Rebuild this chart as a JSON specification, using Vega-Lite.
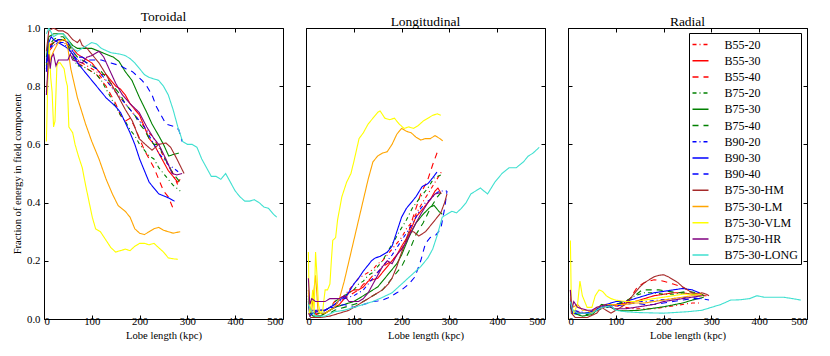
{
"$schema": "https://vega.github.io/schema/vega-lite/v6.json",
"padding": {"left": 12, "top": 9, "right": 5, "bottom": 5},
"background": "white",
"config": {
  "font": "Liberation Serif",
  "view": {"stroke": "black", "strokeWidth": 1},
  "axis": {"domain": false, "grid": false, "ticks": true, "tickSize": -4, "tickColor": "black", "labelColor": "black", "labelFontSize": 10.8, "titleFontSize": 10.6, "titleFontWeight": "normal", "titleColor": "black", "labelFont": "Liberation Serif", "titleFont": "Liberation Serif"},
  "title": {"font": "Liberation Serif", "fontSize": 13.5, "fontWeight": "normal", "color": "black", "offset": -1},
  "legend": {"orient": "none", "legendX": 645, "legendY": 5, "strokeColor": "black", "fillColor": "white", "padding": 2.5, "symbolType": "stroke", "symbolSize": 256, "symbolStrokeWidth": 1.5, "labelFontSize": 12, "labelFont": "Liberation Serif", "labelColor": "black", "labelOffset": 15, "rowPadding": 1.2},
  "concat": {"spacing": 23}
},
"bounds": "flush",
"datasets": {"d": [
{"s":"B55-20","p":"T","x":5,"y":0.85},{"s":"B55-20","p":"T","x":10,"y":0.92},{"s":"B55-20","p":"T","x":20,"y":0.94},{"s":"B55-20","p":"T","x":30,"y":0.95},{"s":"B55-20","p":"T","x":40,"y":0.95},{"s":"B55-20","p":"T","x":50,"y":0.94},{"s":"B55-20","p":"T","x":60,"y":0.91},{"s":"B55-20","p":"T","x":70,"y":0.89},{"s":"B55-20","p":"T","x":80,"y":0.88},{"s":"B55-20","p":"T","x":90,"y":0.87},{"s":"B55-20","p":"T","x":100,"y":0.86},{"s":"B55-20","p":"T","x":110,"y":0.85},{"s":"B55-20","p":"T","x":120,"y":0.83},{"s":"B55-20","p":"T","x":130,"y":0.82},{"s":"B55-20","p":"T","x":140,"y":0.8},{"s":"B55-20","p":"T","x":150,"y":0.78},{"s":"B55-20","p":"T","x":160,"y":0.76},{"s":"B55-20","p":"T","x":170,"y":0.74},{"s":"B55-20","p":"T","x":180,"y":0.72},{"s":"B55-20","p":"T","x":190,"y":0.7},{"s":"B55-20","p":"T","x":200,"y":0.68},{"s":"B55-20","p":"T","x":210,"y":0.66},{"s":"B55-20","p":"T","x":220,"y":0.64},{"s":"B55-20","p":"T","x":230,"y":0.62},{"s":"B55-20","p":"T","x":240,"y":0.59},{"s":"B55-20","p":"T","x":250,"y":0.56},{"s":"B55-20","p":"T","x":260,"y":0.53},{"s":"B55-20","p":"T","x":270,"y":0.5},{"s":"B55-20","p":"T","x":280,"y":0.46},
{"s":"B55-30","p":"T","x":5,"y":0.88},{"s":"B55-30","p":"T","x":10,"y":0.94},{"s":"B55-30","p":"T","x":20,"y":0.95},{"s":"B55-30","p":"T","x":30,"y":0.96},{"s":"B55-30","p":"T","x":40,"y":0.96},{"s":"B55-30","p":"T","x":50,"y":0.95},{"s":"B55-30","p":"T","x":60,"y":0.93},{"s":"B55-30","p":"T","x":70,"y":0.91},{"s":"B55-30","p":"T","x":80,"y":0.9},{"s":"B55-30","p":"T","x":90,"y":0.89},{"s":"B55-30","p":"T","x":100,"y":0.88},{"s":"B55-30","p":"T","x":110,"y":0.86},{"s":"B55-30","p":"T","x":120,"y":0.84},{"s":"B55-30","p":"T","x":130,"y":0.84},{"s":"B55-30","p":"T","x":140,"y":0.82},{"s":"B55-30","p":"T","x":150,"y":0.8},{"s":"B55-30","p":"T","x":160,"y":0.79},{"s":"B55-30","p":"T","x":170,"y":0.77},{"s":"B55-30","p":"T","x":180,"y":0.74},{"s":"B55-30","p":"T","x":190,"y":0.72},{"s":"B55-30","p":"T","x":200,"y":0.7},{"s":"B55-30","p":"T","x":210,"y":0.66},{"s":"B55-30","p":"T","x":220,"y":0.62},{"s":"B55-30","p":"T","x":230,"y":0.6},{"s":"B55-30","p":"T","x":240,"y":0.57},{"s":"B55-30","p":"T","x":250,"y":0.54},{"s":"B55-30","p":"T","x":260,"y":0.51},{"s":"B55-30","p":"T","x":270,"y":0.49},{"s":"B55-30","p":"T","x":280,"y":0.47},{"s":"B55-30","p":"T","x":285,"y":0.48},
{"s":"B55-40","p":"T","x":5,"y":0.86},{"s":"B55-40","p":"T","x":10,"y":0.93},{"s":"B55-40","p":"T","x":20,"y":0.95},{"s":"B55-40","p":"T","x":30,"y":0.96},{"s":"B55-40","p":"T","x":40,"y":0.96},{"s":"B55-40","p":"T","x":50,"y":0.94},{"s":"B55-40","p":"T","x":60,"y":0.91},{"s":"B55-40","p":"T","x":70,"y":0.88},{"s":"B55-40","p":"T","x":80,"y":0.87},{"s":"B55-40","p":"T","x":90,"y":0.86},{"s":"B55-40","p":"T","x":100,"y":0.85},{"s":"B55-40","p":"T","x":110,"y":0.84},{"s":"B55-40","p":"T","x":120,"y":0.82},{"s":"B55-40","p":"T","x":130,"y":0.8},{"s":"B55-40","p":"T","x":140,"y":0.77},{"s":"B55-40","p":"T","x":150,"y":0.74},{"s":"B55-40","p":"T","x":160,"y":0.7},{"s":"B55-40","p":"T","x":170,"y":0.68},{"s":"B55-40","p":"T","x":180,"y":0.69},{"s":"B55-40","p":"T","x":190,"y":0.66},{"s":"B55-40","p":"T","x":200,"y":0.62},{"s":"B55-40","p":"T","x":210,"y":0.58},{"s":"B55-40","p":"T","x":220,"y":0.55},{"s":"B55-40","p":"T","x":230,"y":0.52},{"s":"B55-40","p":"T","x":240,"y":0.48},{"s":"B55-40","p":"T","x":250,"y":0.44},{"s":"B55-40","p":"T","x":260,"y":0.42},{"s":"B55-40","p":"T","x":270,"y":0.38},
{"s":"B75-20","p":"T","x":5,"y":0.87},{"s":"B75-20","p":"T","x":10,"y":0.93},{"s":"B75-20","p":"T","x":20,"y":0.95},{"s":"B75-20","p":"T","x":30,"y":0.96},{"s":"B75-20","p":"T","x":40,"y":0.96},{"s":"B75-20","p":"T","x":50,"y":0.94},{"s":"B75-20","p":"T","x":60,"y":0.9},{"s":"B75-20","p":"T","x":70,"y":0.87},{"s":"B75-20","p":"T","x":80,"y":0.87},{"s":"B75-20","p":"T","x":90,"y":0.86},{"s":"B75-20","p":"T","x":100,"y":0.85},{"s":"B75-20","p":"T","x":110,"y":0.84},{"s":"B75-20","p":"T","x":120,"y":0.82},{"s":"B75-20","p":"T","x":130,"y":0.79},{"s":"B75-20","p":"T","x":140,"y":0.76},{"s":"B75-20","p":"T","x":150,"y":0.73},{"s":"B75-20","p":"T","x":160,"y":0.7},{"s":"B75-20","p":"T","x":170,"y":0.68},{"s":"B75-20","p":"T","x":180,"y":0.65},{"s":"B75-20","p":"T","x":190,"y":0.63},{"s":"B75-20","p":"T","x":200,"y":0.6},{"s":"B75-20","p":"T","x":210,"y":0.58},{"s":"B75-20","p":"T","x":220,"y":0.56},{"s":"B75-20","p":"T","x":230,"y":0.55},{"s":"B75-20","p":"T","x":240,"y":0.52},{"s":"B75-20","p":"T","x":250,"y":0.5},{"s":"B75-20","p":"T","x":260,"y":0.48},{"s":"B75-20","p":"T","x":270,"y":0.46},{"s":"B75-20","p":"T","x":285,"y":0.44},
{"s":"B75-30","p":"T","x":5,"y":0.9},{"s":"B75-30","p":"T","x":10,"y":0.97},{"s":"B75-30","p":"T","x":20,"y":0.98},{"s":"B75-30","p":"T","x":30,"y":0.98},{"s":"B75-30","p":"T","x":40,"y":0.98},{"s":"B75-30","p":"T","x":50,"y":0.96},{"s":"B75-30","p":"T","x":60,"y":0.94},{"s":"B75-30","p":"T","x":70,"y":0.93},{"s":"B75-30","p":"T","x":80,"y":0.93},{"s":"B75-30","p":"T","x":100,"y":0.93},{"s":"B75-30","p":"T","x":115,"y":0.92},{"s":"B75-30","p":"T","x":130,"y":0.91},{"s":"B75-30","p":"T","x":145,"y":0.9},{"s":"B75-30","p":"T","x":157,"y":0.885},{"s":"B75-30","p":"T","x":170,"y":0.85},{"s":"B75-30","p":"T","x":184,"y":0.82},{"s":"B75-30","p":"T","x":200,"y":0.76},{"s":"B75-30","p":"T","x":215,"y":0.71},{"s":"B75-30","p":"T","x":226,"y":0.67},{"s":"B75-30","p":"T","x":240,"y":0.63},{"s":"B75-30","p":"T","x":250,"y":0.6},{"s":"B75-30","p":"T","x":261,"y":0.56},{"s":"B75-30","p":"T","x":270,"y":0.565},{"s":"B75-30","p":"T","x":282,"y":0.57},
{"s":"B75-40","p":"T","x":5,"y":0.88},{"s":"B75-40","p":"T","x":10,"y":0.94},{"s":"B75-40","p":"T","x":20,"y":0.96},{"s":"B75-40","p":"T","x":30,"y":0.97},{"s":"B75-40","p":"T","x":40,"y":0.97},{"s":"B75-40","p":"T","x":50,"y":0.95},{"s":"B75-40","p":"T","x":60,"y":0.92},{"s":"B75-40","p":"T","x":70,"y":0.9},{"s":"B75-40","p":"T","x":80,"y":0.89},{"s":"B75-40","p":"T","x":90,"y":0.88},{"s":"B75-40","p":"T","x":100,"y":0.87},{"s":"B75-40","p":"T","x":110,"y":0.86},{"s":"B75-40","p":"T","x":120,"y":0.85},{"s":"B75-40","p":"T","x":130,"y":0.83},{"s":"B75-40","p":"T","x":140,"y":0.81},{"s":"B75-40","p":"T","x":150,"y":0.79},{"s":"B75-40","p":"T","x":160,"y":0.77},{"s":"B75-40","p":"T","x":170,"y":0.74},{"s":"B75-40","p":"T","x":180,"y":0.72},{"s":"B75-40","p":"T","x":190,"y":0.7},{"s":"B75-40","p":"T","x":200,"y":0.67},{"s":"B75-40","p":"T","x":210,"y":0.65},{"s":"B75-40","p":"T","x":220,"y":0.62},{"s":"B75-40","p":"T","x":230,"y":0.6},{"s":"B75-40","p":"T","x":240,"y":0.6},{"s":"B75-40","p":"T","x":250,"y":0.56},{"s":"B75-40","p":"T","x":260,"y":0.53},{"s":"B75-40","p":"T","x":270,"y":0.5},{"s":"B75-40","p":"T","x":285,"y":0.47},
{"s":"B90-20","p":"T","x":5,"y":0.86},{"s":"B90-20","p":"T","x":10,"y":0.93},{"s":"B90-20","p":"T","x":20,"y":0.94},{"s":"B90-20","p":"T","x":30,"y":0.95},{"s":"B90-20","p":"T","x":40,"y":0.95},{"s":"B90-20","p":"T","x":50,"y":0.93},{"s":"B90-20","p":"T","x":60,"y":0.91},{"s":"B90-20","p":"T","x":70,"y":0.89},{"s":"B90-20","p":"T","x":80,"y":0.89},{"s":"B90-20","p":"T","x":90,"y":0.88},{"s":"B90-20","p":"T","x":100,"y":0.87},{"s":"B90-20","p":"T","x":110,"y":0.86},{"s":"B90-20","p":"T","x":120,"y":0.84},{"s":"B90-20","p":"T","x":130,"y":0.82},{"s":"B90-20","p":"T","x":140,"y":0.8},{"s":"B90-20","p":"T","x":150,"y":0.78},{"s":"B90-20","p":"T","x":160,"y":0.76},{"s":"B90-20","p":"T","x":170,"y":0.74},{"s":"B90-20","p":"T","x":180,"y":0.72},{"s":"B90-20","p":"T","x":190,"y":0.7},{"s":"B90-20","p":"T","x":200,"y":0.68},{"s":"B90-20","p":"T","x":210,"y":0.66},{"s":"B90-20","p":"T","x":220,"y":0.63},{"s":"B90-20","p":"T","x":230,"y":0.6},{"s":"B90-20","p":"T","x":240,"y":0.57},{"s":"B90-20","p":"T","x":250,"y":0.55},{"s":"B90-20","p":"T","x":260,"y":0.53},{"s":"B90-20","p":"T","x":270,"y":0.52},{"s":"B90-20","p":"T","x":285,"y":0.5},
{"s":"B90-30","p":"T","x":5,"y":0.88},{"s":"B90-30","p":"T","x":10,"y":0.95},{"s":"B90-30","p":"T","x":15,"y":0.97},{"s":"B90-30","p":"T","x":20,"y":0.96},{"s":"B90-30","p":"T","x":30,"y":0.95},{"s":"B90-30","p":"T","x":40,"y":0.94},{"s":"B90-30","p":"T","x":50,"y":0.93},{"s":"B90-30","p":"T","x":60,"y":0.91},{"s":"B90-30","p":"T","x":70,"y":0.88},{"s":"B90-30","p":"T","x":80,"y":0.86},{"s":"B90-30","p":"T","x":90,"y":0.84},{"s":"B90-30","p":"T","x":100,"y":0.82},{"s":"B90-30","p":"T","x":110,"y":0.8},{"s":"B90-30","p":"T","x":120,"y":0.78},{"s":"B90-30","p":"T","x":130,"y":0.76},{"s":"B90-30","p":"T","x":140,"y":0.745},{"s":"B90-30","p":"T","x":150,"y":0.73},{"s":"B90-30","p":"T","x":160,"y":0.71},{"s":"B90-30","p":"T","x":170,"y":0.675},{"s":"B90-30","p":"T","x":180,"y":0.64},{"s":"B90-30","p":"T","x":190,"y":0.6},{"s":"B90-30","p":"T","x":200,"y":0.55},{"s":"B90-30","p":"T","x":210,"y":0.51},{"s":"B90-30","p":"T","x":220,"y":0.47},{"s":"B90-30","p":"T","x":230,"y":0.45},{"s":"B90-30","p":"T","x":240,"y":0.43},{"s":"B90-30","p":"T","x":255,"y":0.42},{"s":"B90-30","p":"T","x":262,"y":0.415},{"s":"B90-30","p":"T","x":273,"y":0.405},
{"s":"B90-40","p":"T","x":5,"y":0.85},{"s":"B90-40","p":"T","x":10,"y":0.93},{"s":"B90-40","p":"T","x":20,"y":0.95},{"s":"B90-40","p":"T","x":30,"y":0.96},{"s":"B90-40","p":"T","x":40,"y":0.96},{"s":"B90-40","p":"T","x":50,"y":0.95},{"s":"B90-40","p":"T","x":60,"y":0.92},{"s":"B90-40","p":"T","x":70,"y":0.9},{"s":"B90-40","p":"T","x":80,"y":0.9},{"s":"B90-40","p":"T","x":90,"y":0.89},{"s":"B90-40","p":"T","x":100,"y":0.89},{"s":"B90-40","p":"T","x":120,"y":0.89},{"s":"B90-40","p":"T","x":140,"y":0.88},{"s":"B90-40","p":"T","x":160,"y":0.87},{"s":"B90-40","p":"T","x":171,"y":0.86},{"s":"B90-40","p":"T","x":185,"y":0.85},{"s":"B90-40","p":"T","x":205,"y":0.82},{"s":"B90-40","p":"T","x":215,"y":0.8},{"s":"B90-40","p":"T","x":226,"y":0.77},{"s":"B90-40","p":"T","x":235,"y":0.73},{"s":"B90-40","p":"T","x":245,"y":0.7},{"s":"B90-40","p":"T","x":255,"y":0.67},{"s":"B90-40","p":"T","x":265,"y":0.665},{"s":"B90-40","p":"T","x":275,"y":0.66},{"s":"B90-40","p":"T","x":282,"y":0.65},{"s":"B90-40","p":"T","x":289,"y":0.61},
{"s":"B75-30-HM","p":"T","x":5,"y":0.92},{"s":"B75-30-HM","p":"T","x":10,"y":0.99},{"s":"B75-30-HM","p":"T","x":20,"y":1.0},{"s":"B75-30-HM","p":"T","x":30,"y":0.99},{"s":"B75-30-HM","p":"T","x":40,"y":0.99},{"s":"B75-30-HM","p":"T","x":50,"y":0.98},{"s":"B75-30-HM","p":"T","x":60,"y":0.96},{"s":"B75-30-HM","p":"T","x":70,"y":0.95},{"s":"B75-30-HM","p":"T","x":75,"y":0.96},{"s":"B75-30-HM","p":"T","x":80,"y":0.94},{"s":"B75-30-HM","p":"T","x":90,"y":0.93},{"s":"B75-30-HM","p":"T","x":100,"y":0.91},{"s":"B75-30-HM","p":"T","x":115,"y":0.88},{"s":"B75-30-HM","p":"T","x":130,"y":0.84},{"s":"B75-30-HM","p":"T","x":140,"y":0.81},{"s":"B75-30-HM","p":"T","x":157,"y":0.76},{"s":"B75-30-HM","p":"T","x":170,"y":0.72},{"s":"B75-30-HM","p":"T","x":185,"y":0.68},{"s":"B75-30-HM","p":"T","x":199,"y":0.62},{"s":"B75-30-HM","p":"T","x":212,"y":0.6},{"s":"B75-30-HM","p":"T","x":226,"y":0.58},{"s":"B75-30-HM","p":"T","x":240,"y":0.6},{"s":"B75-30-HM","p":"T","x":255,"y":0.605},{"s":"B75-30-HM","p":"T","x":265,"y":0.59},{"s":"B75-30-HM","p":"T","x":278,"y":0.55},{"s":"B75-30-HM","p":"T","x":287,"y":0.52},{"s":"B75-30-HM","p":"T","x":293,"y":0.5},
{"s":"B75-30-LM","p":"T","x":5,"y":0.78},{"s":"B75-30-LM","p":"T","x":10,"y":0.87},{"s":"B75-30-LM","p":"T","x":15,"y":0.9},{"s":"B75-30-LM","p":"T","x":20,"y":0.92},{"s":"B75-30-LM","p":"T","x":30,"y":0.95},{"s":"B75-30-LM","p":"T","x":40,"y":0.96},{"s":"B75-30-LM","p":"T","x":45,"y":0.96},{"s":"B75-30-LM","p":"T","x":50,"y":0.93},{"s":"B75-30-LM","p":"T","x":56,"y":0.86},{"s":"B75-30-LM","p":"T","x":70,"y":0.76},{"s":"B75-30-LM","p":"T","x":87,"y":0.67},{"s":"B75-30-LM","p":"T","x":100,"y":0.61},{"s":"B75-30-LM","p":"T","x":115,"y":0.55},{"s":"B75-30-LM","p":"T","x":130,"y":0.48},{"s":"B75-30-LM","p":"T","x":143,"y":0.43},{"s":"B75-30-LM","p":"T","x":155,"y":0.39},{"s":"B75-30-LM","p":"T","x":170,"y":0.37},{"s":"B75-30-LM","p":"T","x":180,"y":0.35},{"s":"B75-30-LM","p":"T","x":190,"y":0.31},{"s":"B75-30-LM","p":"T","x":200,"y":0.295},{"s":"B75-30-LM","p":"T","x":210,"y":0.29},{"s":"B75-30-LM","p":"T","x":220,"y":0.3},{"s":"B75-30-LM","p":"T","x":230,"y":0.31},{"s":"B75-30-LM","p":"T","x":240,"y":0.315},{"s":"B75-30-LM","p":"T","x":250,"y":0.305},{"s":"B75-30-LM","p":"T","x":260,"y":0.3},{"s":"B75-30-LM","p":"T","x":270,"y":0.295},{"s":"B75-30-LM","p":"T","x":285,"y":0.3},
{"s":"B75-30-VLM","p":"T","x":5,"y":0.61},{"s":"B75-30-VLM","p":"T","x":8,"y":0.82},{"s":"B75-30-VLM","p":"T","x":11,"y":0.95},{"s":"B75-30-VLM","p":"T","x":14,"y":0.83},{"s":"B75-30-VLM","p":"T","x":17,"y":0.78},{"s":"B75-30-VLM","p":"T","x":20,"y":0.66},{"s":"B75-30-VLM","p":"T","x":23,"y":0.68},{"s":"B75-30-VLM","p":"T","x":27,"y":0.87},{"s":"B75-30-VLM","p":"T","x":30,"y":0.88},{"s":"B75-30-VLM","p":"T","x":34,"y":0.88},{"s":"B75-30-VLM","p":"T","x":38,"y":0.87},{"s":"B75-30-VLM","p":"T","x":42,"y":0.86},{"s":"B75-30-VLM","p":"T","x":46,"y":0.82},{"s":"B75-30-VLM","p":"T","x":49,"y":0.8},{"s":"B75-30-VLM","p":"T","x":52,"y":0.66},{"s":"B75-30-VLM","p":"T","x":56,"y":0.65},{"s":"B75-30-VLM","p":"T","x":60,"y":0.64},{"s":"B75-30-VLM","p":"T","x":65,"y":0.6},{"s":"B75-30-VLM","p":"T","x":72,"y":0.56},{"s":"B75-30-VLM","p":"T","x":80,"y":0.52},{"s":"B75-30-VLM","p":"T","x":87,"y":0.46},{"s":"B75-30-VLM","p":"T","x":94,"y":0.405},{"s":"B75-30-VLM","p":"T","x":101,"y":0.35},{"s":"B75-30-VLM","p":"T","x":108,"y":0.31},{"s":"B75-30-VLM","p":"T","x":118,"y":0.3},{"s":"B75-30-VLM","p":"T","x":130,"y":0.27},{"s":"B75-30-VLM","p":"T","x":140,"y":0.245},{"s":"B75-30-VLM","p":"T","x":150,"y":0.23},{"s":"B75-30-VLM","p":"T","x":160,"y":0.235},{"s":"B75-30-VLM","p":"T","x":170,"y":0.24},{"s":"B75-30-VLM","p":"T","x":180,"y":0.235},{"s":"B75-30-VLM","p":"T","x":190,"y":0.25},{"s":"B75-30-VLM","p":"T","x":200,"y":0.26},{"s":"B75-30-VLM","p":"T","x":210,"y":0.26},{"s":"B75-30-VLM","p":"T","x":220,"y":0.255},{"s":"B75-30-VLM","p":"T","x":230,"y":0.26},{"s":"B75-30-VLM","p":"T","x":240,"y":0.245},{"s":"B75-30-VLM","p":"T","x":250,"y":0.23},{"s":"B75-30-VLM","p":"T","x":260,"y":0.21},{"s":"B75-30-VLM","p":"T","x":270,"y":0.207},{"s":"B75-30-VLM","p":"T","x":280,"y":0.205},
{"s":"B75-30-HR","p":"T","x":5,"y":0.77},{"s":"B75-30-HR","p":"T","x":8,"y":0.86},{"s":"B75-30-HR","p":"T","x":10,"y":0.91},{"s":"B75-30-HR","p":"T","x":13,"y":0.86},{"s":"B75-30-HR","p":"T","x":16,"y":0.9},{"s":"B75-30-HR","p":"T","x":20,"y":0.91},{"s":"B75-30-HR","p":"T","x":25,"y":0.87},{"s":"B75-30-HR","p":"T","x":30,"y":0.89},{"s":"B75-30-HR","p":"T","x":40,"y":0.89},{"s":"B75-30-HR","p":"T","x":50,"y":0.89},{"s":"B75-30-HR","p":"T","x":55,"y":0.91},{"s":"B75-30-HR","p":"T","x":60,"y":0.89},{"s":"B75-30-HR","p":"T","x":70,"y":0.885},{"s":"B75-30-HR","p":"T","x":80,"y":0.88},{"s":"B75-30-HR","p":"T","x":90,"y":0.9},{"s":"B75-30-HR","p":"T","x":100,"y":0.905},{"s":"B75-30-HR","p":"T","x":115,"y":0.92},{"s":"B75-30-HR","p":"T","x":125,"y":0.9},{"s":"B75-30-HR","p":"T","x":136,"y":0.86},{"s":"B75-30-HR","p":"T","x":150,"y":0.81},{"s":"B75-30-HR","p":"T","x":164,"y":0.77},{"s":"B75-30-HR","p":"T","x":180,"y":0.74},{"s":"B75-30-HR","p":"T","x":199,"y":0.71},{"s":"B75-30-HR","p":"T","x":215,"y":0.66},{"s":"B75-30-HR","p":"T","x":230,"y":0.62},{"s":"B75-30-HR","p":"T","x":240,"y":0.6},{"s":"B75-30-HR","p":"T","x":255,"y":0.55},{"s":"B75-30-HR","p":"T","x":268,"y":0.5},{"s":"B75-30-HR","p":"T","x":278,"y":0.495},{"s":"B75-30-HR","p":"T","x":289,"y":0.5},
{"s":"B75-30-LONG","p":"T","x":5,"y":0.98},{"s":"B75-30-LONG","p":"T","x":10,"y":1.0},{"s":"B75-30-LONG","p":"T","x":20,"y":0.97},{"s":"B75-30-LONG","p":"T","x":30,"y":0.98},{"s":"B75-30-LONG","p":"T","x":40,"y":0.98},{"s":"B75-30-LONG","p":"T","x":50,"y":0.96},{"s":"B75-30-LONG","p":"T","x":60,"y":0.93},{"s":"B75-30-LONG","p":"T","x":70,"y":0.92},{"s":"B75-30-LONG","p":"T","x":80,"y":0.93},{"s":"B75-30-LONG","p":"T","x":90,"y":0.94},{"s":"B75-30-LONG","p":"T","x":100,"y":0.95},{"s":"B75-30-LONG","p":"T","x":110,"y":0.945},{"s":"B75-30-LONG","p":"T","x":120,"y":0.93},{"s":"B75-30-LONG","p":"T","x":140,"y":0.915},{"s":"B75-30-LONG","p":"T","x":160,"y":0.91},{"s":"B75-30-LONG","p":"T","x":170,"y":0.905},{"s":"B75-30-LONG","p":"T","x":180,"y":0.895},{"s":"B75-30-LONG","p":"T","x":190,"y":0.88},{"s":"B75-30-LONG","p":"T","x":200,"y":0.86},{"s":"B75-30-LONG","p":"T","x":210,"y":0.84},{"s":"B75-30-LONG","p":"T","x":220,"y":0.83},{"s":"B75-30-LONG","p":"T","x":240,"y":0.82},{"s":"B75-30-LONG","p":"T","x":250,"y":0.8},{"s":"B75-30-LONG","p":"T","x":260,"y":0.77},{"s":"B75-30-LONG","p":"T","x":270,"y":0.72},{"s":"B75-30-LONG","p":"T","x":280,"y":0.66},{"s":"B75-30-LONG","p":"T","x":290,"y":0.61},{"s":"B75-30-LONG","p":"T","x":300,"y":0.6},{"s":"B75-30-LONG","p":"T","x":310,"y":0.6},{"s":"B75-30-LONG","p":"T","x":320,"y":0.59},{"s":"B75-30-LONG","p":"T","x":330,"y":0.55},{"s":"B75-30-LONG","p":"T","x":340,"y":0.52},{"s":"B75-30-LONG","p":"T","x":350,"y":0.49},{"s":"B75-30-LONG","p":"T","x":360,"y":0.49},{"s":"B75-30-LONG","p":"T","x":370,"y":0.48},{"s":"B75-30-LONG","p":"T","x":380,"y":0.5},{"s":"B75-30-LONG","p":"T","x":390,"y":0.47},{"s":"B75-30-LONG","p":"T","x":400,"y":0.44},{"s":"B75-30-LONG","p":"T","x":410,"y":0.42},{"s":"B75-30-LONG","p":"T","x":420,"y":0.405},{"s":"B75-30-LONG","p":"T","x":430,"y":0.405},{"s":"B75-30-LONG","p":"T","x":440,"y":0.41},{"s":"B75-30-LONG","p":"T","x":450,"y":0.4},{"s":"B75-30-LONG","p":"T","x":460,"y":0.385},{"s":"B75-30-LONG","p":"T","x":470,"y":0.38},{"s":"B75-30-LONG","p":"T","x":480,"y":0.36},{"s":"B75-30-LONG","p":"T","x":487,"y":0.35},

{"s":"B55-20","p":"L","x":5,"y":0.08},{"s":"B55-20","p":"L","x":8,"y":0.02},{"s":"B55-20","p":"L","x":15,"y":0.02},{"s":"B55-20","p":"L","x":25,"y":0.03},{"s":"B55-20","p":"L","x":40,"y":0.03},{"s":"B55-20","p":"L","x":50,"y":0.04},{"s":"B55-20","p":"L","x":60,"y":0.06},{"s":"B55-20","p":"L","x":70,"y":0.07},{"s":"B55-20","p":"L","x":80,"y":0.08},{"s":"B55-20","p":"L","x":90,"y":0.1},{"s":"B55-20","p":"L","x":100,"y":0.12},{"s":"B55-20","p":"L","x":110,"y":0.14},{"s":"B55-20","p":"L","x":120,"y":0.15},{"s":"B55-20","p":"L","x":130,"y":0.16},{"s":"B55-20","p":"L","x":140,"y":0.17},{"s":"B55-20","p":"L","x":150,"y":0.19},{"s":"B55-20","p":"L","x":160,"y":0.2},{"s":"B55-20","p":"L","x":170,"y":0.22},{"s":"B55-20","p":"L","x":180,"y":0.24},{"s":"B55-20","p":"L","x":190,"y":0.26},{"s":"B55-20","p":"L","x":200,"y":0.28},{"s":"B55-20","p":"L","x":210,"y":0.31},{"s":"B55-20","p":"L","x":220,"y":0.33},{"s":"B55-20","p":"L","x":230,"y":0.36},{"s":"B55-20","p":"L","x":240,"y":0.39},{"s":"B55-20","p":"L","x":255,"y":0.43},{"s":"B55-20","p":"L","x":270,"y":0.47},{"s":"B55-20","p":"L","x":285,"y":0.51},
{"s":"B55-30","p":"L","x":5,"y":0.1},{"s":"B55-30","p":"L","x":8,"y":0.03},{"s":"B55-30","p":"L","x":15,"y":0.02},{"s":"B55-30","p":"L","x":30,"y":0.01},{"s":"B55-30","p":"L","x":40,"y":0.02},{"s":"B55-30","p":"L","x":50,"y":0.03},{"s":"B55-30","p":"L","x":60,"y":0.04},{"s":"B55-30","p":"L","x":70,"y":0.05},{"s":"B55-30","p":"L","x":80,"y":0.07},{"s":"B55-30","p":"L","x":90,"y":0.09},{"s":"B55-30","p":"L","x":100,"y":0.1},{"s":"B55-30","p":"L","x":110,"y":0.1},{"s":"B55-30","p":"L","x":120,"y":0.11},{"s":"B55-30","p":"L","x":130,"y":0.13},{"s":"B55-30","p":"L","x":140,"y":0.135},{"s":"B55-30","p":"L","x":150,"y":0.14},{"s":"B55-30","p":"L","x":160,"y":0.16},{"s":"B55-30","p":"L","x":170,"y":0.18},{"s":"B55-30","p":"L","x":180,"y":0.2},{"s":"B55-30","p":"L","x":190,"y":0.22},{"s":"B55-30","p":"L","x":200,"y":0.25},{"s":"B55-30","p":"L","x":215,"y":0.29},{"s":"B55-30","p":"L","x":230,"y":0.35},{"s":"B55-30","p":"L","x":245,"y":0.38},{"s":"B55-30","p":"L","x":260,"y":0.41},{"s":"B55-30","p":"L","x":270,"y":0.44},{"s":"B55-30","p":"L","x":276,"y":0.45},{"s":"B55-30","p":"L","x":283,"y":0.43},
{"s":"B55-40","p":"L","x":5,"y":0.09},{"s":"B55-40","p":"L","x":8,"y":0.03},{"s":"B55-40","p":"L","x":15,"y":0.02},{"s":"B55-40","p":"L","x":30,"y":0.02},{"s":"B55-40","p":"L","x":40,"y":0.03},{"s":"B55-40","p":"L","x":50,"y":0.04},{"s":"B55-40","p":"L","x":60,"y":0.05},{"s":"B55-40","p":"L","x":70,"y":0.06},{"s":"B55-40","p":"L","x":80,"y":0.07},{"s":"B55-40","p":"L","x":90,"y":0.08},{"s":"B55-40","p":"L","x":100,"y":0.09},{"s":"B55-40","p":"L","x":110,"y":0.1},{"s":"B55-40","p":"L","x":120,"y":0.12},{"s":"B55-40","p":"L","x":130,"y":0.13},{"s":"B55-40","p":"L","x":140,"y":0.15},{"s":"B55-40","p":"L","x":150,"y":0.16},{"s":"B55-40","p":"L","x":160,"y":0.18},{"s":"B55-40","p":"L","x":170,"y":0.19},{"s":"B55-40","p":"L","x":180,"y":0.2},{"s":"B55-40","p":"L","x":190,"y":0.22},{"s":"B55-40","p":"L","x":200,"y":0.24},{"s":"B55-40","p":"L","x":210,"y":0.27},{"s":"B55-40","p":"L","x":220,"y":0.33},{"s":"B55-40","p":"L","x":230,"y":0.38},{"s":"B55-40","p":"L","x":240,"y":0.43},{"s":"B55-40","p":"L","x":255,"y":0.48},{"s":"B55-40","p":"L","x":265,"y":0.53},{"s":"B55-40","p":"L","x":275,"y":0.575},
{"s":"B75-20","p":"L","x":5,"y":0.07},{"s":"B75-20","p":"L","x":8,"y":0.02},{"s":"B75-20","p":"L","x":15,"y":0.02},{"s":"B75-20","p":"L","x":30,"y":0.02},{"s":"B75-20","p":"L","x":40,"y":0.03},{"s":"B75-20","p":"L","x":50,"y":0.04},{"s":"B75-20","p":"L","x":60,"y":0.06},{"s":"B75-20","p":"L","x":70,"y":0.07},{"s":"B75-20","p":"L","x":80,"y":0.08},{"s":"B75-20","p":"L","x":90,"y":0.09},{"s":"B75-20","p":"L","x":100,"y":0.1},{"s":"B75-20","p":"L","x":110,"y":0.12},{"s":"B75-20","p":"L","x":120,"y":0.13},{"s":"B75-20","p":"L","x":130,"y":0.15},{"s":"B75-20","p":"L","x":140,"y":0.16},{"s":"B75-20","p":"L","x":150,"y":0.18},{"s":"B75-20","p":"L","x":160,"y":0.2},{"s":"B75-20","p":"L","x":172,"y":0.235},{"s":"B75-20","p":"L","x":185,"y":0.27},{"s":"B75-20","p":"L","x":195,"y":0.3},{"s":"B75-20","p":"L","x":210,"y":0.34},{"s":"B75-20","p":"L","x":222,"y":0.38},{"s":"B75-20","p":"L","x":240,"y":0.42},{"s":"B75-20","p":"L","x":255,"y":0.45},{"s":"B75-20","p":"L","x":268,"y":0.485},{"s":"B75-20","p":"L","x":282,"y":0.495},
{"s":"B75-30","p":"L","x":5,"y":0.06},{"s":"B75-30","p":"L","x":8,"y":0.02},{"s":"B75-30","p":"L","x":15,"y":0.01},{"s":"B75-30","p":"L","x":30,"y":0.01},{"s":"B75-30","p":"L","x":40,"y":0.02},{"s":"B75-30","p":"L","x":50,"y":0.03},{"s":"B75-30","p":"L","x":60,"y":0.04},{"s":"B75-30","p":"L","x":70,"y":0.045},{"s":"B75-30","p":"L","x":80,"y":0.05},{"s":"B75-30","p":"L","x":90,"y":0.055},{"s":"B75-30","p":"L","x":100,"y":0.06},{"s":"B75-30","p":"L","x":110,"y":0.07},{"s":"B75-30","p":"L","x":120,"y":0.08},{"s":"B75-30","p":"L","x":130,"y":0.09},{"s":"B75-30","p":"L","x":140,"y":0.1},{"s":"B75-30","p":"L","x":150,"y":0.11},{"s":"B75-30","p":"L","x":160,"y":0.13},{"s":"B75-30","p":"L","x":170,"y":0.15},{"s":"B75-30","p":"L","x":180,"y":0.17},{"s":"B75-30","p":"L","x":190,"y":0.19},{"s":"B75-30","p":"L","x":200,"y":0.22},{"s":"B75-30","p":"L","x":215,"y":0.28},{"s":"B75-30","p":"L","x":230,"y":0.33},{"s":"B75-30","p":"L","x":245,"y":0.36},{"s":"B75-30","p":"L","x":260,"y":0.385},{"s":"B75-30","p":"L","x":268,"y":0.39},{"s":"B75-30","p":"L","x":278,"y":0.37},{"s":"B75-30","p":"L","x":285,"y":0.36},
{"s":"B75-40","p":"L","x":5,"y":0.06},{"s":"B75-40","p":"L","x":8,"y":0.02},{"s":"B75-40","p":"L","x":15,"y":0.02},{"s":"B75-40","p":"L","x":30,"y":0.02},{"s":"B75-40","p":"L","x":50,"y":0.02},{"s":"B75-40","p":"L","x":60,"y":0.03},{"s":"B75-40","p":"L","x":70,"y":0.035},{"s":"B75-40","p":"L","x":80,"y":0.04},{"s":"B75-40","p":"L","x":90,"y":0.045},{"s":"B75-40","p":"L","x":100,"y":0.05},{"s":"B75-40","p":"L","x":110,"y":0.055},{"s":"B75-40","p":"L","x":120,"y":0.06},{"s":"B75-40","p":"L","x":130,"y":0.07},{"s":"B75-40","p":"L","x":140,"y":0.08},{"s":"B75-40","p":"L","x":150,"y":0.09},{"s":"B75-40","p":"L","x":160,"y":0.1},{"s":"B75-40","p":"L","x":170,"y":0.12},{"s":"B75-40","p":"L","x":180,"y":0.14},{"s":"B75-40","p":"L","x":190,"y":0.16},{"s":"B75-40","p":"L","x":200,"y":0.18},{"s":"B75-40","p":"L","x":215,"y":0.23},{"s":"B75-40","p":"L","x":230,"y":0.29},{"s":"B75-40","p":"L","x":245,"y":0.33},{"s":"B75-40","p":"L","x":260,"y":0.38},{"s":"B75-40","p":"L","x":275,"y":0.42},{"s":"B75-40","p":"L","x":285,"y":0.44},
{"s":"B90-20","p":"L","x":5,"y":0.08},{"s":"B90-20","p":"L","x":8,"y":0.02},{"s":"B90-20","p":"L","x":15,"y":0.02},{"s":"B90-20","p":"L","x":30,"y":0.03},{"s":"B90-20","p":"L","x":40,"y":0.03},{"s":"B90-20","p":"L","x":50,"y":0.04},{"s":"B90-20","p":"L","x":60,"y":0.05},{"s":"B90-20","p":"L","x":70,"y":0.06},{"s":"B90-20","p":"L","x":80,"y":0.07},{"s":"B90-20","p":"L","x":90,"y":0.075},{"s":"B90-20","p":"L","x":100,"y":0.08},{"s":"B90-20","p":"L","x":110,"y":0.09},{"s":"B90-20","p":"L","x":120,"y":0.1},{"s":"B90-20","p":"L","x":130,"y":0.12},{"s":"B90-20","p":"L","x":140,"y":0.14},{"s":"B90-20","p":"L","x":150,"y":0.16},{"s":"B90-20","p":"L","x":160,"y":0.18},{"s":"B90-20","p":"L","x":170,"y":0.2},{"s":"B90-20","p":"L","x":180,"y":0.22},{"s":"B90-20","p":"L","x":190,"y":0.245},{"s":"B90-20","p":"L","x":200,"y":0.27},{"s":"B90-20","p":"L","x":210,"y":0.295},{"s":"B90-20","p":"L","x":220,"y":0.32},{"s":"B90-20","p":"L","x":230,"y":0.35},{"s":"B90-20","p":"L","x":240,"y":0.38},{"s":"B90-20","p":"L","x":250,"y":0.4},{"s":"B90-20","p":"L","x":260,"y":0.41},{"s":"B90-20","p":"L","x":270,"y":0.43},{"s":"B90-20","p":"L","x":280,"y":0.44},{"s":"B90-20","p":"L","x":295,"y":0.44},
{"s":"B90-30","p":"L","x":5,"y":0.05},{"s":"B90-30","p":"L","x":8,"y":0.01},{"s":"B90-30","p":"L","x":15,"y":0.02},{"s":"B90-30","p":"L","x":20,"y":0.03},{"s":"B90-30","p":"L","x":30,"y":0.03},{"s":"B90-30","p":"L","x":40,"y":0.03},{"s":"B90-30","p":"L","x":50,"y":0.04},{"s":"B90-30","p":"L","x":60,"y":0.05},{"s":"B90-30","p":"L","x":70,"y":0.065},{"s":"B90-30","p":"L","x":85,"y":0.08},{"s":"B90-30","p":"L","x":100,"y":0.12},{"s":"B90-30","p":"L","x":110,"y":0.14},{"s":"B90-30","p":"L","x":120,"y":0.165},{"s":"B90-30","p":"L","x":130,"y":0.185},{"s":"B90-30","p":"L","x":137,"y":0.2},{"s":"B90-30","p":"L","x":145,"y":0.21},{"s":"B90-30","p":"L","x":155,"y":0.215},{"s":"B90-30","p":"L","x":170,"y":0.23},{"s":"B90-30","p":"L","x":180,"y":0.25},{"s":"B90-30","p":"L","x":190,"y":0.3},{"s":"B90-30","p":"L","x":200,"y":0.35},{"s":"B90-30","p":"L","x":210,"y":0.38},{"s":"B90-30","p":"L","x":220,"y":0.4},{"s":"B90-30","p":"L","x":230,"y":0.42},{"s":"B90-30","p":"L","x":243,"y":0.455},{"s":"B90-30","p":"L","x":255,"y":0.465},{"s":"B90-30","p":"L","x":265,"y":0.485},{"s":"B90-30","p":"L","x":274,"y":0.505},
{"s":"B90-40","p":"L","x":5,"y":0.07},{"s":"B90-40","p":"L","x":8,"y":0.03},{"s":"B90-40","p":"L","x":15,"y":0.03},{"s":"B90-40","p":"L","x":30,"y":0.03},{"s":"B90-40","p":"L","x":40,"y":0.03},{"s":"B90-40","p":"L","x":50,"y":0.04},{"s":"B90-40","p":"L","x":60,"y":0.04},{"s":"B90-40","p":"L","x":70,"y":0.045},{"s":"B90-40","p":"L","x":80,"y":0.05},{"s":"B90-40","p":"L","x":90,"y":0.045},{"s":"B90-40","p":"L","x":100,"y":0.04},{"s":"B90-40","p":"L","x":110,"y":0.045},{"s":"B90-40","p":"L","x":120,"y":0.05},{"s":"B90-40","p":"L","x":130,"y":0.055},{"s":"B90-40","p":"L","x":140,"y":0.06},{"s":"B90-40","p":"L","x":150,"y":0.062},{"s":"B90-40","p":"L","x":160,"y":0.065},{"s":"B90-40","p":"L","x":172,"y":0.073},{"s":"B90-40","p":"L","x":180,"y":0.08},{"s":"B90-40","p":"L","x":190,"y":0.09},{"s":"B90-40","p":"L","x":200,"y":0.1},{"s":"B90-40","p":"L","x":215,"y":0.12},{"s":"B90-40","p":"L","x":228,"y":0.145},{"s":"B90-40","p":"L","x":240,"y":0.2},{"s":"B90-40","p":"L","x":250,"y":0.26},{"s":"B90-40","p":"L","x":260,"y":0.28},{"s":"B90-40","p":"L","x":270,"y":0.285},{"s":"B90-40","p":"L","x":282,"y":0.31},{"s":"B90-40","p":"L","x":290,"y":0.38},{"s":"B90-40","p":"L","x":295,"y":0.44},
{"s":"B75-30-HM","p":"L","x":5,"y":0.02},{"s":"B75-30-HM","p":"L","x":10,"y":0.005},{"s":"B75-30-HM","p":"L","x":30,"y":0.005},{"s":"B75-30-HM","p":"L","x":50,"y":0.01},{"s":"B75-30-HM","p":"L","x":60,"y":0.015},{"s":"B75-30-HM","p":"L","x":70,"y":0.02},{"s":"B75-30-HM","p":"L","x":80,"y":0.025},{"s":"B75-30-HM","p":"L","x":90,"y":0.03},{"s":"B75-30-HM","p":"L","x":100,"y":0.04},{"s":"B75-30-HM","p":"L","x":110,"y":0.05},{"s":"B75-30-HM","p":"L","x":120,"y":0.06},{"s":"B75-30-HM","p":"L","x":130,"y":0.07},{"s":"B75-30-HM","p":"L","x":140,"y":0.08},{"s":"B75-30-HM","p":"L","x":150,"y":0.09},{"s":"B75-30-HM","p":"L","x":160,"y":0.1},{"s":"B75-30-HM","p":"L","x":172,"y":0.12},{"s":"B75-30-HM","p":"L","x":180,"y":0.14},{"s":"B75-30-HM","p":"L","x":190,"y":0.18},{"s":"B75-30-HM","p":"L","x":198,"y":0.22},{"s":"B75-30-HM","p":"L","x":205,"y":0.25},{"s":"B75-30-HM","p":"L","x":215,"y":0.3},{"s":"B75-30-HM","p":"L","x":225,"y":0.3},{"s":"B75-30-HM","p":"L","x":236,"y":0.285},{"s":"B75-30-HM","p":"L","x":250,"y":0.3},{"s":"B75-30-HM","p":"L","x":265,"y":0.33},{"s":"B75-30-HM","p":"L","x":282,"y":0.365},{"s":"B75-30-HM","p":"L","x":290,"y":0.4},{"s":"B75-30-HM","p":"L","x":295,"y":0.43},
{"s":"B75-30-LM","p":"L","x":5,"y":0.1},{"s":"B75-30-LM","p":"L","x":8,"y":0.04},{"s":"B75-30-LM","p":"L","x":12,"y":0.03},{"s":"B75-30-LM","p":"L","x":20,"y":0.15},{"s":"B75-30-LM","p":"L","x":25,"y":0.03},{"s":"B75-30-LM","p":"L","x":30,"y":0.02},{"s":"B75-30-LM","p":"L","x":40,"y":0.02},{"s":"B75-30-LM","p":"L","x":50,"y":0.03},{"s":"B75-30-LM","p":"L","x":60,"y":0.04},{"s":"B75-30-LM","p":"L","x":70,"y":0.07},{"s":"B75-30-LM","p":"L","x":80,"y":0.13},{"s":"B75-30-LM","p":"L","x":90,"y":0.2},{"s":"B75-30-LM","p":"L","x":100,"y":0.27},{"s":"B75-30-LM","p":"L","x":110,"y":0.34},{"s":"B75-30-LM","p":"L","x":120,"y":0.41},{"s":"B75-30-LM","p":"L","x":130,"y":0.48},{"s":"B75-30-LM","p":"L","x":140,"y":0.54},{"s":"B75-30-LM","p":"L","x":150,"y":0.56},{"s":"B75-30-LM","p":"L","x":160,"y":0.57},{"s":"B75-30-LM","p":"L","x":170,"y":0.575},{"s":"B75-30-LM","p":"L","x":180,"y":0.6},{"s":"B75-30-LM","p":"L","x":190,"y":0.635},{"s":"B75-30-LM","p":"L","x":200,"y":0.655},{"s":"B75-30-LM","p":"L","x":210,"y":0.645},{"s":"B75-30-LM","p":"L","x":220,"y":0.64},{"s":"B75-30-LM","p":"L","x":230,"y":0.625},{"s":"B75-30-LM","p":"L","x":240,"y":0.615},{"s":"B75-30-LM","p":"L","x":250,"y":0.62},{"s":"B75-30-LM","p":"L","x":260,"y":0.62},{"s":"B75-30-LM","p":"L","x":270,"y":0.63},{"s":"B75-30-LM","p":"L","x":280,"y":0.62},{"s":"B75-30-LM","p":"L","x":286,"y":0.612},
{"s":"B75-30-VLM","p":"L","x":5,"y":0.23},{"s":"B75-30-VLM","p":"L","x":7,"y":0.02},{"s":"B75-30-VLM","p":"L","x":10,"y":0.03},{"s":"B75-30-VLM","p":"L","x":14,"y":0.1},{"s":"B75-30-VLM","p":"L","x":17,"y":0.02},{"s":"B75-30-VLM","p":"L","x":20,"y":0.23},{"s":"B75-30-VLM","p":"L","x":23,"y":0.15},{"s":"B75-30-VLM","p":"L","x":26,"y":0.05},{"s":"B75-30-VLM","p":"L","x":30,"y":0.02},{"s":"B75-30-VLM","p":"L","x":35,"y":0.03},{"s":"B75-30-VLM","p":"L","x":40,"y":0.1},{"s":"B75-30-VLM","p":"L","x":45,"y":0.1},{"s":"B75-30-VLM","p":"L","x":50,"y":0.12},{"s":"B75-30-VLM","p":"L","x":53,"y":0.2},{"s":"B75-30-VLM","p":"L","x":56,"y":0.27},{"s":"B75-30-VLM","p":"L","x":62,"y":0.28},{"s":"B75-30-VLM","p":"L","x":66,"y":0.34},{"s":"B75-30-VLM","p":"L","x":75,"y":0.42},{"s":"B75-30-VLM","p":"L","x":85,"y":0.47},{"s":"B75-30-VLM","p":"L","x":94,"y":0.5},{"s":"B75-30-VLM","p":"L","x":100,"y":0.54},{"s":"B75-30-VLM","p":"L","x":111,"y":0.62},{"s":"B75-30-VLM","p":"L","x":120,"y":0.64},{"s":"B75-30-VLM","p":"L","x":130,"y":0.67},{"s":"B75-30-VLM","p":"L","x":140,"y":0.69},{"s":"B75-30-VLM","p":"L","x":150,"y":0.71},{"s":"B75-30-VLM","p":"L","x":155,"y":0.715},{"s":"B75-30-VLM","p":"L","x":165,"y":0.69},{"s":"B75-30-VLM","p":"L","x":175,"y":0.685},{"s":"B75-30-VLM","p":"L","x":185,"y":0.69},{"s":"B75-30-VLM","p":"L","x":195,"y":0.67},{"s":"B75-30-VLM","p":"L","x":205,"y":0.655},{"s":"B75-30-VLM","p":"L","x":215,"y":0.66},{"s":"B75-30-VLM","p":"L","x":225,"y":0.655},{"s":"B75-30-VLM","p":"L","x":235,"y":0.665},{"s":"B75-30-VLM","p":"L","x":245,"y":0.68},{"s":"B75-30-VLM","p":"L","x":255,"y":0.69},{"s":"B75-30-VLM","p":"L","x":265,"y":0.7},{"s":"B75-30-VLM","p":"L","x":275,"y":0.705},{"s":"B75-30-VLM","p":"L","x":282,"y":0.7},
{"s":"B75-30-HR","p":"L","x":5,"y":0.14},{"s":"B75-30-HR","p":"L","x":8,"y":0.05},{"s":"B75-30-HR","p":"L","x":12,"y":0.07},{"s":"B75-30-HR","p":"L","x":20,"y":0.06},{"s":"B75-30-HR","p":"L","x":30,"y":0.06},{"s":"B75-30-HR","p":"L","x":40,"y":0.06},{"s":"B75-30-HR","p":"L","x":50,"y":0.07},{"s":"B75-30-HR","p":"L","x":60,"y":0.07},{"s":"B75-30-HR","p":"L","x":70,"y":0.07},{"s":"B75-30-HR","p":"L","x":80,"y":0.08},{"s":"B75-30-HR","p":"L","x":90,"y":0.06},{"s":"B75-30-HR","p":"L","x":100,"y":0.06},{"s":"B75-30-HR","p":"L","x":110,"y":0.06},{"s":"B75-30-HR","p":"L","x":120,"y":0.07},{"s":"B75-30-HR","p":"L","x":130,"y":0.09},{"s":"B75-30-HR","p":"L","x":140,"y":0.12},{"s":"B75-30-HR","p":"L","x":150,"y":0.15},{"s":"B75-30-HR","p":"L","x":160,"y":0.18},{"s":"B75-30-HR","p":"L","x":170,"y":0.2},{"s":"B75-30-HR","p":"L","x":180,"y":0.19},{"s":"B75-30-HR","p":"L","x":190,"y":0.22},{"s":"B75-30-HR","p":"L","x":200,"y":0.24},{"s":"B75-30-HR","p":"L","x":210,"y":0.265},{"s":"B75-30-HR","p":"L","x":220,"y":0.3},{"s":"B75-30-HR","p":"L","x":230,"y":0.33},{"s":"B75-30-HR","p":"L","x":240,"y":0.36},{"s":"B75-30-HR","p":"L","x":257,"y":0.405},{"s":"B75-30-HR","p":"L","x":270,"y":0.43},{"s":"B75-30-HR","p":"L","x":282,"y":0.434},
{"s":"B75-30-LONG","p":"L","x":5,"y":0.05},{"s":"B75-30-LONG","p":"L","x":10,"y":0.03},{"s":"B75-30-LONG","p":"L","x":20,"y":0.01},{"s":"B75-30-LONG","p":"L","x":40,"y":0.01},{"s":"B75-30-LONG","p":"L","x":60,"y":0.025},{"s":"B75-30-LONG","p":"L","x":80,"y":0.03},{"s":"B75-30-LONG","p":"L","x":100,"y":0.04},{"s":"B75-30-LONG","p":"L","x":120,"y":0.05},{"s":"B75-30-LONG","p":"L","x":140,"y":0.06},{"s":"B75-30-LONG","p":"L","x":158,"y":0.073},{"s":"B75-30-LONG","p":"L","x":180,"y":0.09},{"s":"B75-30-LONG","p":"L","x":200,"y":0.12},{"s":"B75-30-LONG","p":"L","x":220,"y":0.15},{"s":"B75-30-LONG","p":"L","x":240,"y":0.18},{"s":"B75-30-LONG","p":"L","x":255,"y":0.21},{"s":"B75-30-LONG","p":"L","x":265,"y":0.24},{"s":"B75-30-LONG","p":"L","x":275,"y":0.29},{"s":"B75-30-LONG","p":"L","x":285,"y":0.35},{"s":"B75-30-LONG","p":"L","x":295,"y":0.36},{"s":"B75-30-LONG","p":"L","x":305,"y":0.37},{"s":"B75-30-LONG","p":"L","x":315,"y":0.365},{"s":"B75-30-LONG","p":"L","x":325,"y":0.38},{"s":"B75-30-LONG","p":"L","x":335,"y":0.4},{"s":"B75-30-LONG","p":"L","x":345,"y":0.43},{"s":"B75-30-LONG","p":"L","x":355,"y":0.44},{"s":"B75-30-LONG","p":"L","x":365,"y":0.45},{"s":"B75-30-LONG","p":"L","x":372,"y":0.44},{"s":"B75-30-LONG","p":"L","x":380,"y":0.43},{"s":"B75-30-LONG","p":"L","x":395,"y":0.47},{"s":"B75-30-LONG","p":"L","x":410,"y":0.5},{"s":"B75-30-LONG","p":"L","x":425,"y":0.52},{"s":"B75-30-LONG","p":"L","x":440,"y":0.52},{"s":"B75-30-LONG","p":"L","x":455,"y":0.54},{"s":"B75-30-LONG","p":"L","x":465,"y":0.56},{"s":"B75-30-LONG","p":"L","x":475,"y":0.57},{"s":"B75-30-LONG","p":"L","x":488,"y":0.59},

{"s":"B55-20","p":"R","x":5,"y":0.06},{"s":"B55-20","p":"R","x":10,"y":0.02},{"s":"B55-20","p":"R","x":20,"y":0.02},{"s":"B55-20","p":"R","x":40,"y":0.02},{"s":"B55-20","p":"R","x":55,"y":0.03},{"s":"B55-20","p":"R","x":70,"y":0.04},{"s":"B55-20","p":"R","x":85,"y":0.045},{"s":"B55-20","p":"R","x":100,"y":0.045},{"s":"B55-20","p":"R","x":120,"y":0.04},{"s":"B55-20","p":"R","x":140,"y":0.035},{"s":"B55-20","p":"R","x":160,"y":0.035},{"s":"B55-20","p":"R","x":180,"y":0.035},{"s":"B55-20","p":"R","x":200,"y":0.04},{"s":"B55-20","p":"R","x":220,"y":0.045},{"s":"B55-20","p":"R","x":240,"y":0.05},{"s":"B55-20","p":"R","x":260,"y":0.055},{"s":"B55-20","p":"R","x":280,"y":0.055},
{"s":"B55-30","p":"R","x":5,"y":0.07},{"s":"B55-30","p":"R","x":10,"y":0.03},{"s":"B55-30","p":"R","x":20,"y":0.02},{"s":"B55-30","p":"R","x":40,"y":0.02},{"s":"B55-30","p":"R","x":55,"y":0.03},{"s":"B55-30","p":"R","x":70,"y":0.04},{"s":"B55-30","p":"R","x":85,"y":0.045},{"s":"B55-30","p":"R","x":100,"y":0.05},{"s":"B55-30","p":"R","x":120,"y":0.055},{"s":"B55-30","p":"R","x":140,"y":0.06},{"s":"B55-30","p":"R","x":160,"y":0.07},{"s":"B55-30","p":"R","x":180,"y":0.08},{"s":"B55-30","p":"R","x":200,"y":0.085},{"s":"B55-30","p":"R","x":220,"y":0.09},{"s":"B55-30","p":"R","x":240,"y":0.09},{"s":"B55-30","p":"R","x":260,"y":0.085},{"s":"B55-30","p":"R","x":275,"y":0.09},{"s":"B55-30","p":"R","x":285,"y":0.08},
{"s":"B55-40","p":"R","x":5,"y":0.06},{"s":"B55-40","p":"R","x":10,"y":0.03},{"s":"B55-40","p":"R","x":30,"y":0.02},{"s":"B55-40","p":"R","x":50,"y":0.02},{"s":"B55-40","p":"R","x":70,"y":0.04},{"s":"B55-40","p":"R","x":90,"y":0.05},{"s":"B55-40","p":"R","x":110,"y":0.05},{"s":"B55-40","p":"R","x":130,"y":0.07},{"s":"B55-40","p":"R","x":145,"y":0.11},{"s":"B55-40","p":"R","x":160,"y":0.125},{"s":"B55-40","p":"R","x":180,"y":0.135},{"s":"B55-40","p":"R","x":200,"y":0.13},{"s":"B55-40","p":"R","x":220,"y":0.12},{"s":"B55-40","p":"R","x":240,"y":0.11},{"s":"B55-40","p":"R","x":260,"y":0.09},{"s":"B55-40","p":"R","x":280,"y":0.08},{"s":"B55-40","p":"R","x":290,"y":0.08},
{"s":"B75-20","p":"R","x":5,"y":0.05},{"s":"B75-20","p":"R","x":10,"y":0.02},{"s":"B75-20","p":"R","x":40,"y":0.02},{"s":"B75-20","p":"R","x":60,"y":0.03},{"s":"B75-20","p":"R","x":80,"y":0.04},{"s":"B75-20","p":"R","x":100,"y":0.05},{"s":"B75-20","p":"R","x":120,"y":0.06},{"s":"B75-20","p":"R","x":140,"y":0.08},{"s":"B75-20","p":"R","x":160,"y":0.09},{"s":"B75-20","p":"R","x":180,"y":0.09},{"s":"B75-20","p":"R","x":200,"y":0.085},{"s":"B75-20","p":"R","x":220,"y":0.085},{"s":"B75-20","p":"R","x":240,"y":0.09},{"s":"B75-20","p":"R","x":260,"y":0.085},{"s":"B75-20","p":"R","x":280,"y":0.08},
{"s":"B75-30","p":"R","x":5,"y":0.04},{"s":"B75-30","p":"R","x":10,"y":0.02},{"s":"B75-30","p":"R","x":30,"y":0.01},{"s":"B75-30","p":"R","x":50,"y":0.015},{"s":"B75-30","p":"R","x":60,"y":0.03},{"s":"B75-30","p":"R","x":70,"y":0.05},{"s":"B75-30","p":"R","x":80,"y":0.048},{"s":"B75-30","p":"R","x":90,"y":0.04},{"s":"B75-30","p":"R","x":100,"y":0.03},{"s":"B75-30","p":"R","x":120,"y":0.028},{"s":"B75-30","p":"R","x":150,"y":0.03},{"s":"B75-30","p":"R","x":170,"y":0.035},{"s":"B75-30","p":"R","x":200,"y":0.042},{"s":"B75-30","p":"R","x":240,"y":0.055},{"s":"B75-30","p":"R","x":260,"y":0.065},{"s":"B75-30","p":"R","x":284,"y":0.075},
{"s":"B75-40","p":"R","x":5,"y":0.05},{"s":"B75-40","p":"R","x":10,"y":0.02},{"s":"B75-40","p":"R","x":40,"y":0.015},{"s":"B75-40","p":"R","x":60,"y":0.03},{"s":"B75-40","p":"R","x":80,"y":0.04},{"s":"B75-40","p":"R","x":100,"y":0.05},{"s":"B75-40","p":"R","x":120,"y":0.06},{"s":"B75-40","p":"R","x":140,"y":0.08},{"s":"B75-40","p":"R","x":155,"y":0.1},{"s":"B75-40","p":"R","x":170,"y":0.1},{"s":"B75-40","p":"R","x":190,"y":0.1},{"s":"B75-40","p":"R","x":210,"y":0.095},{"s":"B75-40","p":"R","x":230,"y":0.09},{"s":"B75-40","p":"R","x":250,"y":0.095},{"s":"B75-40","p":"R","x":270,"y":0.09},{"s":"B75-40","p":"R","x":285,"y":0.08},
{"s":"B90-20","p":"R","x":5,"y":0.06},{"s":"B90-20","p":"R","x":10,"y":0.03},{"s":"B90-20","p":"R","x":40,"y":0.02},{"s":"B90-20","p":"R","x":70,"y":0.04},{"s":"B90-20","p":"R","x":100,"y":0.05},{"s":"B90-20","p":"R","x":130,"y":0.06},{"s":"B90-20","p":"R","x":160,"y":0.06},{"s":"B90-20","p":"R","x":190,"y":0.065},{"s":"B90-20","p":"R","x":220,"y":0.07},{"s":"B90-20","p":"R","x":250,"y":0.075},{"s":"B90-20","p":"R","x":280,"y":0.07},
{"s":"B90-30","p":"R","x":5,"y":0.06},{"s":"B90-30","p":"R","x":10,"y":0.02},{"s":"B90-30","p":"R","x":20,"y":0.02},{"s":"B90-30","p":"R","x":40,"y":0.02},{"s":"B90-30","p":"R","x":60,"y":0.03},{"s":"B90-30","p":"R","x":80,"y":0.05},{"s":"B90-30","p":"R","x":100,"y":0.06},{"s":"B90-30","p":"R","x":120,"y":0.06},{"s":"B90-30","p":"R","x":140,"y":0.07},{"s":"B90-30","p":"R","x":160,"y":0.08},{"s":"B90-30","p":"R","x":180,"y":0.09},{"s":"B90-30","p":"R","x":200,"y":0.095},{"s":"B90-30","p":"R","x":220,"y":0.1},{"s":"B90-30","p":"R","x":240,"y":0.105},{"s":"B90-30","p":"R","x":260,"y":0.1},{"s":"B90-30","p":"R","x":275,"y":0.09},
{"s":"B90-40","p":"R","x":5,"y":0.05},{"s":"B90-40","p":"R","x":10,"y":0.02},{"s":"B90-40","p":"R","x":40,"y":0.02},{"s":"B90-40","p":"R","x":70,"y":0.04},{"s":"B90-40","p":"R","x":100,"y":0.045},{"s":"B90-40","p":"R","x":120,"y":0.05},{"s":"B90-40","p":"R","x":140,"y":0.055},{"s":"B90-40","p":"R","x":160,"y":0.05},{"s":"B90-40","p":"R","x":180,"y":0.05},{"s":"B90-40","p":"R","x":200,"y":0.055},{"s":"B90-40","p":"R","x":220,"y":0.06},{"s":"B90-40","p":"R","x":240,"y":0.065},{"s":"B90-40","p":"R","x":260,"y":0.07},{"s":"B90-40","p":"R","x":280,"y":0.07},{"s":"B90-40","p":"R","x":295,"y":0.065},
{"s":"B75-30-HM","p":"R","x":5,"y":0.1},{"s":"B75-30-HM","p":"R","x":7,"y":0.02},{"s":"B75-30-HM","p":"R","x":15,"y":0.005},{"s":"B75-30-HM","p":"R","x":40,"y":0.005},{"s":"B75-30-HM","p":"R","x":60,"y":0.02},{"s":"B75-30-HM","p":"R","x":70,"y":0.04},{"s":"B75-30-HM","p":"R","x":80,"y":0.03},{"s":"B75-30-HM","p":"R","x":90,"y":0.02},{"s":"B75-30-HM","p":"R","x":100,"y":0.03},{"s":"B75-30-HM","p":"R","x":110,"y":0.04},{"s":"B75-30-HM","p":"R","x":120,"y":0.05},{"s":"B75-30-HM","p":"R","x":130,"y":0.07},{"s":"B75-30-HM","p":"R","x":140,"y":0.09},{"s":"B75-30-HM","p":"R","x":150,"y":0.11},{"s":"B75-30-HM","p":"R","x":160,"y":0.125},{"s":"B75-30-HM","p":"R","x":170,"y":0.135},{"s":"B75-30-HM","p":"R","x":180,"y":0.145},{"s":"B75-30-HM","p":"R","x":190,"y":0.15},{"s":"B75-30-HM","p":"R","x":200,"y":0.152},{"s":"B75-30-HM","p":"R","x":210,"y":0.145},{"s":"B75-30-HM","p":"R","x":220,"y":0.135},{"s":"B75-30-HM","p":"R","x":230,"y":0.125},{"s":"B75-30-HM","p":"R","x":240,"y":0.11},{"s":"B75-30-HM","p":"R","x":250,"y":0.1},{"s":"B75-30-HM","p":"R","x":260,"y":0.09},{"s":"B75-30-HM","p":"R","x":270,"y":0.085},{"s":"B75-30-HM","p":"R","x":280,"y":0.09},{"s":"B75-30-HM","p":"R","x":290,"y":0.085},{"s":"B75-30-HM","p":"R","x":295,"y":0.08},
{"s":"B75-30-LM","p":"R","x":5,"y":0.08},{"s":"B75-30-LM","p":"R","x":10,"y":0.04},{"s":"B75-30-LM","p":"R","x":20,"y":0.05},{"s":"B75-30-LM","p":"R","x":30,"y":0.03},{"s":"B75-30-LM","p":"R","x":40,"y":0.03},{"s":"B75-30-LM","p":"R","x":50,"y":0.02},{"s":"B75-30-LM","p":"R","x":60,"y":0.04},{"s":"B75-30-LM","p":"R","x":80,"y":0.05},{"s":"B75-30-LM","p":"R","x":100,"y":0.05},{"s":"B75-30-LM","p":"R","x":120,"y":0.05},{"s":"B75-30-LM","p":"R","x":140,"y":0.055},{"s":"B75-30-LM","p":"R","x":160,"y":0.055},{"s":"B75-30-LM","p":"R","x":180,"y":0.06},{"s":"B75-30-LM","p":"R","x":200,"y":0.065},{"s":"B75-30-LM","p":"R","x":220,"y":0.07},{"s":"B75-30-LM","p":"R","x":240,"y":0.075},{"s":"B75-30-LM","p":"R","x":260,"y":0.08},{"s":"B75-30-LM","p":"R","x":280,"y":0.08},
{"s":"B75-30-VLM","p":"R","x":5,"y":0.27},{"s":"B75-30-VLM","p":"R","x":7,"y":0.05},{"s":"B75-30-VLM","p":"R","x":12,"y":0.02},{"s":"B75-30-VLM","p":"R","x":20,"y":0.05},{"s":"B75-30-VLM","p":"R","x":25,"y":0.13},{"s":"B75-30-VLM","p":"R","x":30,"y":0.08},{"s":"B75-30-VLM","p":"R","x":40,"y":0.04},{"s":"B75-30-VLM","p":"R","x":50,"y":0.04},{"s":"B75-30-VLM","p":"R","x":57,"y":0.08},{"s":"B75-30-VLM","p":"R","x":65,"y":0.1},{"s":"B75-30-VLM","p":"R","x":72,"y":0.095},{"s":"B75-30-VLM","p":"R","x":80,"y":0.08},{"s":"B75-30-VLM","p":"R","x":90,"y":0.07},{"s":"B75-30-VLM","p":"R","x":100,"y":0.065},{"s":"B75-30-VLM","p":"R","x":120,"y":0.06},{"s":"B75-30-VLM","p":"R","x":140,"y":0.06},{"s":"B75-30-VLM","p":"R","x":160,"y":0.065},{"s":"B75-30-VLM","p":"R","x":180,"y":0.07},{"s":"B75-30-VLM","p":"R","x":200,"y":0.075},{"s":"B75-30-VLM","p":"R","x":220,"y":0.08},{"s":"B75-30-VLM","p":"R","x":240,"y":0.085},{"s":"B75-30-VLM","p":"R","x":260,"y":0.085},{"s":"B75-30-VLM","p":"R","x":280,"y":0.085},
{"s":"B75-30-HR","p":"R","x":5,"y":0.1},{"s":"B75-30-HR","p":"R","x":8,"y":0.03},{"s":"B75-30-HR","p":"R","x":12,"y":0.06},{"s":"B75-30-HR","p":"R","x":20,"y":0.04},{"s":"B75-30-HR","p":"R","x":30,"y":0.035},{"s":"B75-30-HR","p":"R","x":40,"y":0.03},{"s":"B75-30-HR","p":"R","x":50,"y":0.03},{"s":"B75-30-HR","p":"R","x":60,"y":0.04},{"s":"B75-30-HR","p":"R","x":70,"y":0.045},{"s":"B75-30-HR","p":"R","x":80,"y":0.05},{"s":"B75-30-HR","p":"R","x":90,"y":0.04},{"s":"B75-30-HR","p":"R","x":100,"y":0.035},{"s":"B75-30-HR","p":"R","x":120,"y":0.035},{"s":"B75-30-HR","p":"R","x":140,"y":0.04},{"s":"B75-30-HR","p":"R","x":160,"y":0.045},{"s":"B75-30-HR","p":"R","x":180,"y":0.05},{"s":"B75-30-HR","p":"R","x":200,"y":0.06},{"s":"B75-30-HR","p":"R","x":220,"y":0.065},{"s":"B75-30-HR","p":"R","x":240,"y":0.07},{"s":"B75-30-HR","p":"R","x":260,"y":0.075},{"s":"B75-30-HR","p":"R","x":280,"y":0.08},
{"s":"B75-30-LONG","p":"R","x":5,"y":0.06},{"s":"B75-30-LONG","p":"R","x":10,"y":0.03},{"s":"B75-30-LONG","p":"R","x":20,"y":0.02},{"s":"B75-30-LONG","p":"R","x":50,"y":0.02},{"s":"B75-30-LONG","p":"R","x":70,"y":0.04},{"s":"B75-30-LONG","p":"R","x":90,"y":0.045},{"s":"B75-30-LONG","p":"R","x":100,"y":0.03},{"s":"B75-30-LONG","p":"R","x":120,"y":0.025},{"s":"B75-30-LONG","p":"R","x":150,"y":0.022},{"s":"B75-30-LONG","p":"R","x":200,"y":0.02},{"s":"B75-30-LONG","p":"R","x":250,"y":0.025},{"s":"B75-30-LONG","p":"R","x":280,"y":0.03},{"s":"B75-30-LONG","p":"R","x":300,"y":0.04},{"s":"B75-30-LONG","p":"R","x":320,"y":0.05},{"s":"B75-30-LONG","p":"R","x":340,"y":0.065},{"s":"B75-30-LONG","p":"R","x":360,"y":0.066},{"s":"B75-30-LONG","p":"R","x":380,"y":0.07},{"s":"B75-30-LONG","p":"R","x":395,"y":0.08},{"s":"B75-30-LONG","p":"R","x":410,"y":0.075},{"s":"B75-30-LONG","p":"R","x":430,"y":0.075},{"s":"B75-30-LONG","p":"R","x":450,"y":0.075},{"s":"B75-30-LONG","p":"R","x":470,"y":0.07},{"s":"B75-30-LONG","p":"R","x":487,"y":0.065}
]},
"data": {"name": "d"},
"hconcat": [
 {"width": 239, "height": 291, "title": "Toroidal",
  "transform": [{"filter": "datum.p == 'T'"}],
  "layer": [
   {"mark": {"type": "line", "strokeWidth": 1.1, "clip": true},
    "encoding": {
     "x": {"field": "x", "type": "quantitative", "scale": {"domain": [0, 500], "nice": false}, "axis": {"title": "Lobe length (kpc)", "values": [0,100,200,300,400,500], "labelPadding": 0, "titlePadding": 5}},
     "y": {"field": "y", "type": "quantitative", "scale": {"domain": [0, 1], "nice": false}, "axis": {"title": "Fraction of energy in field component", "values": [0,0.2,0.4,0.6,0.8,1.0], "format": ".1f", "labelPadding": 8, "titlePadding": 4}},
     "color": {"field": "s", "type": "nominal", "legend": {"title": null}, "scale": {"domain": ["B55-20","B55-30","B55-40","B75-20","B75-30","B75-40","B90-20","B90-30","B90-40","B75-30-HM","B75-30-LM","B75-30-VLM","B75-30-HR","B75-30-LONG"], "range": ["#ff0000","#ff0000","#ff0000","#008000","#008000","#008000","#0000ff","#0000ff","#0000ff","#a52a2a","#ffa500","#ffff00","#800080","#40e0d0"]}},
     "strokeDash": {"field": "s", "type": "nominal", "legend": {"title": null}, "scale": {"domain": ["B55-20","B55-30","B55-40","B75-20","B75-30","B75-40","B90-20","B90-30","B90-40","B75-30-HM","B75-30-LM","B75-30-VLM","B75-30-HR","B75-30-LONG"], "range": [[4,3,1,3],[1,0],[6,5],[4,3,1,3],[1,0],[6,5],[4,3,1,3],[1,0],[6,5],[1,0],[1,0],[1,0],[1,0],[1,0]]}}
    }},
   {"mark": {"type": "point", "opacity": 0},
    "encoding": {
     "x": {"field": "x", "type": "quantitative", "scale": {"domain": [0, 500], "nice": false}, "axis": {"orient": "top", "labels": false, "title": null, "values": [0,100,200,300,400,500]}},
     "y": {"field": "y", "type": "quantitative", "scale": {"domain": [0, 1], "nice": false}, "axis": {"orient": "right", "labels": false, "title": null, "values": [0,0.2,0.4,0.6,0.8,1.0]}}
    }}
  ],
  "resolve": {"axis": {"x": "independent", "y": "independent"}}
 },
 {"width": 239, "height": 291, "title": "Longitudinal",
  "transform": [{"filter": "datum.p == 'L'"}],
  "layer": [
   {"mark": {"type": "line", "strokeWidth": 1.1, "clip": true},
    "encoding": {
     "x": {"field": "x", "type": "quantitative", "scale": {"domain": [0, 500], "nice": false}, "axis": {"title": "Lobe length (kpc)", "values": [0,100,200,300,400,500], "labelPadding": 0, "titlePadding": 5}},
     "y": {"field": "y", "type": "quantitative", "scale": {"domain": [0, 1], "nice": false}, "axis": {"title": null, "labels": false, "values": [0,0.2,0.4,0.6,0.8,1.0]}},
     "color": {"field": "s", "type": "nominal", "legend": {"title": null}, "scale": {"domain": ["B55-20","B55-30","B55-40","B75-20","B75-30","B75-40","B90-20","B90-30","B90-40","B75-30-HM","B75-30-LM","B75-30-VLM","B75-30-HR","B75-30-LONG"], "range": ["#ff0000","#ff0000","#ff0000","#008000","#008000","#008000","#0000ff","#0000ff","#0000ff","#a52a2a","#ffa500","#ffff00","#800080","#40e0d0"]}},
     "strokeDash": {"field": "s", "type": "nominal", "legend": {"title": null}, "scale": {"domain": ["B55-20","B55-30","B55-40","B75-20","B75-30","B75-40","B90-20","B90-30","B90-40","B75-30-HM","B75-30-LM","B75-30-VLM","B75-30-HR","B75-30-LONG"], "range": [[4,3,1,3],[1,0],[6,5],[4,3,1,3],[1,0],[6,5],[4,3,1,3],[1,0],[6,5],[1,0],[1,0],[1,0],[1,0],[1,0]]}}
    }},
   {"mark": {"type": "point", "opacity": 0},
    "encoding": {
     "x": {"field": "x", "type": "quantitative", "scale": {"domain": [0, 500], "nice": false}, "axis": {"orient": "top", "labels": false, "title": null, "values": [0,100,200,300,400,500]}},
     "y": {"field": "y", "type": "quantitative", "scale": {"domain": [0, 1], "nice": false}, "axis": {"orient": "right", "labels": false, "title": null, "values": [0,0.2,0.4,0.6,0.8,1.0]}}
    }}
  ],
  "resolve": {"axis": {"x": "independent", "y": "independent"}}
 },
 {"width": 239, "height": 291, "title": "Radial",
  "transform": [{"filter": "datum.p == 'R'"}],
  "layer": [
   {"mark": {"type": "line", "strokeWidth": 1.1, "clip": true},
    "encoding": {
     "x": {"field": "x", "type": "quantitative", "scale": {"domain": [0, 500], "nice": false}, "axis": {"title": "Lobe length (kpc)", "values": [0,100,200,300,400,500], "labelPadding": 0, "titlePadding": 5}},
     "y": {"field": "y", "type": "quantitative", "scale": {"domain": [0, 1], "nice": false}, "axis": {"title": null, "labels": false, "values": [0,0.2,0.4,0.6,0.8,1.0]}},
     "color": {"field": "s", "type": "nominal", "legend": {"title": null}, "scale": {"domain": ["B55-20","B55-30","B55-40","B75-20","B75-30","B75-40","B90-20","B90-30","B90-40","B75-30-HM","B75-30-LM","B75-30-VLM","B75-30-HR","B75-30-LONG"], "range": ["#ff0000","#ff0000","#ff0000","#008000","#008000","#008000","#0000ff","#0000ff","#0000ff","#a52a2a","#ffa500","#ffff00","#800080","#40e0d0"]}},
     "strokeDash": {"field": "s", "type": "nominal", "legend": {"title": null}, "scale": {"domain": ["B55-20","B55-30","B55-40","B75-20","B75-30","B75-40","B90-20","B90-30","B90-40","B75-30-HM","B75-30-LM","B75-30-VLM","B75-30-HR","B75-30-LONG"], "range": [[4,3,1,3],[1,0],[6,5],[4,3,1,3],[1,0],[6,5],[4,3,1,3],[1,0],[6,5],[1,0],[1,0],[1,0],[1,0],[1,0]]}}
    }},
   {"mark": {"type": "point", "opacity": 0},
    "encoding": {
     "x": {"field": "x", "type": "quantitative", "scale": {"domain": [0, 500], "nice": false}, "axis": {"orient": "top", "labels": false, "title": null, "values": [0,100,200,300,400,500]}},
     "y": {"field": "y", "type": "quantitative", "scale": {"domain": [0, 1], "nice": false}, "axis": {"orient": "right", "labels": false, "title": null, "values": [0,0.2,0.4,0.6,0.8,1.0]}}
    }}
  ],
  "resolve": {"axis": {"x": "independent", "y": "independent"}}
 }
]
}
